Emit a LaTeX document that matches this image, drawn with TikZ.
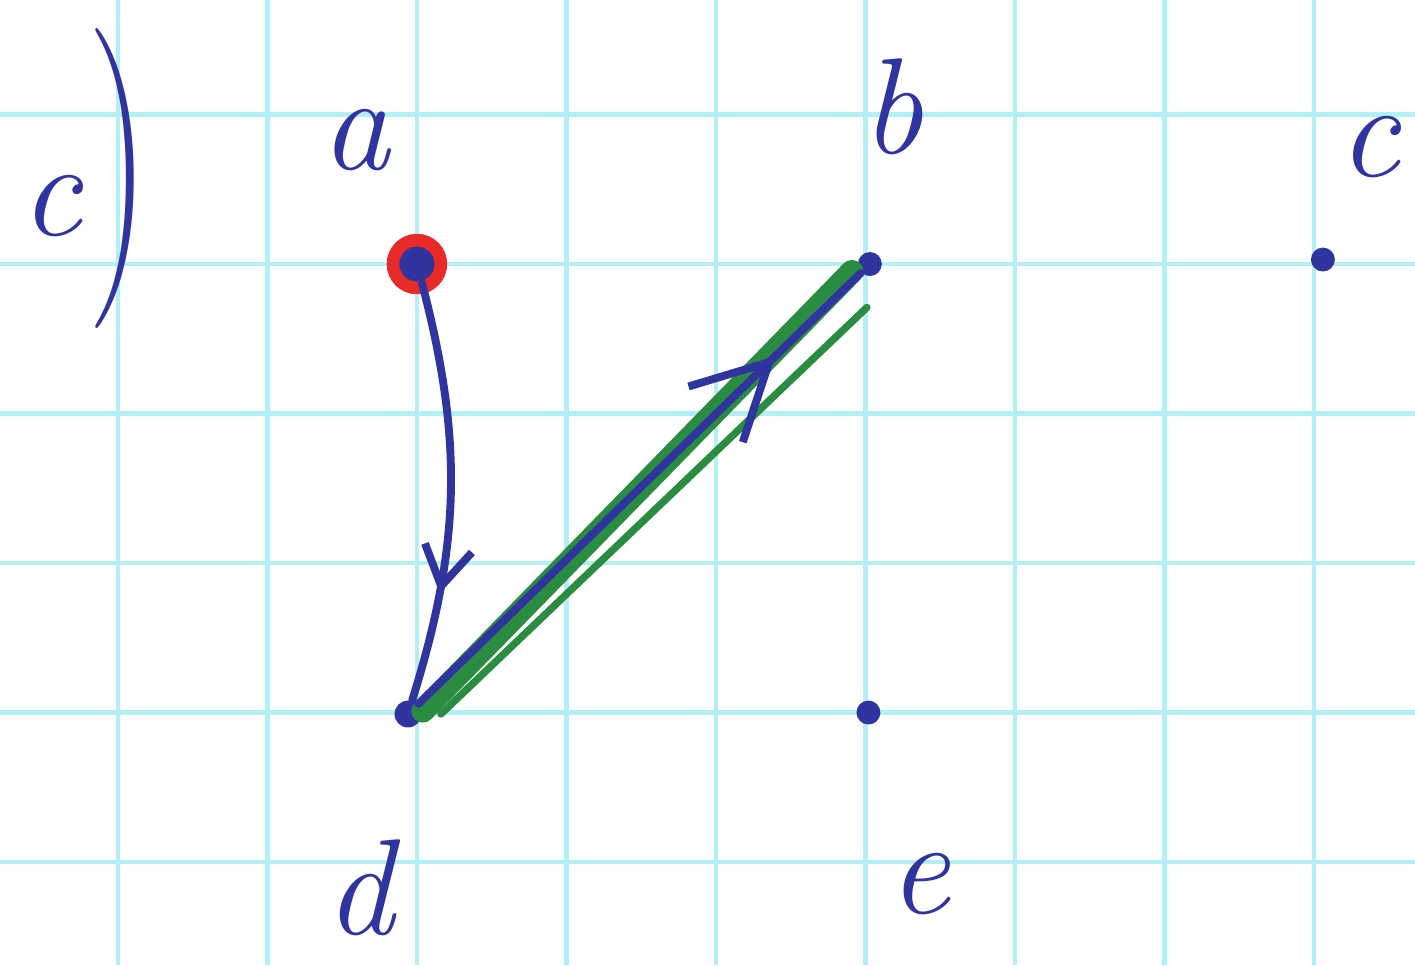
\documentclass[tikz,border=0pt]{standalone}
\usepackage{xcolor}
\usepackage{tikz}
\usetikzlibrary{arrows.meta, calc, decorations.markings}
\definecolor{penblue}{RGB}{48,52,158}
\definecolor{pengreen}{RGB}{42,140,64}
\definecolor{penred}{RGB}{232,42,40}
\definecolor{gridcyan}{RGB}{178,240,245}

\begin{document}
\begin{tikzpicture}[
    gridline/.style={
        draw=gridcyan,
        line width=0.8pt
    },
    vertex/.style={
        circle,
        fill=penblue,
        inner sep=0pt,
        minimum size=2.2mm
    },
    lbl/.style={
        text=penblue,
        font=\fontsize{26}{30}\selectfont\itshape,
        inner sep=0pt
    },
    penline/.style={
        draw=penblue,
        line width=1.5pt,
        line cap=round
    },
    midarrow/.style 2 args={
        postaction={decorate},
        decoration={markings,
            mark=at position #1 with {\arrow[penblue, line width=1.5pt]{Straight Barb[#2]}}}
    },
    marker/.style={
        draw=pengreen,
        line cap=round
    }
]

% =========================
% Carta a quadretti
% =========================
\useasboundingbox (-2.789,-4.689) rectangle (6.676,1.766);
\draw[gridline] (-2.789,-4.689) grid (6.676,1.766);

% =========================
% Titolo
% =========================
\node[lbl, anchor=base west] (title) at (-2.66,0.19)
    {c\hspace{0.04cm}\raisebox{-0.12cm}{\scalebox{1.3}[2.2]{\upshape)}}};

% =========================
% Vertici
% =========================
\node[vertex, minimum size=2.5mm] (a) at (0,0) {};
\node[vertex, minimum size=1.6mm] (b) at (3.03,0) {};
\node[vertex, minimum size=1.6mm] (c) at (6.06,0.03) {};
\node[vertex, minimum size=1.8mm] (d) at (-0.06,-3.01) {};
\node[vertex, minimum size=1.6mm] (e) at (3.02,-3.0) {};

% cerchio rosso attorno ad a
\draw[penred, line width=2.4pt] (a) circle (0.16);

% =========================
% Etichette
% =========================
\node[lbl] (lbla) at (-0.41,0.83) {a};
\node[lbl] (lblb) at (3.18,1.05) {b};
\node[lbl] (lblc) at (6.37,0.78) {c};
\node[lbl] (lbld) at (-0.38,-4.17) {d};
\node[lbl] (lble) at (3.36,-4.15) {e};

% =========================
% Tratti verdi lungo d -- b
% =========================
\draw[marker, line width=4.4pt]
    ($(d)+(0.1,0.02)$) -- ($(b)+(-0.12,-0.05)$);
\draw[marker, line width=1.4pt]
    ($(d)+(0.22,0)$) -- ($(b)+(-0.02,-0.29)$);

% =========================
% Archi
% =========================
% a -> d
\draw[penline, midarrow={0.74}{length=2.6mm, width=3.2mm}]
    (a) to[bend left=16] (d);

% d -> b
\draw[penline, midarrow={0.81}{length=5mm, width=5.2mm}]
    (d) -- (b);

\end{tikzpicture}
\end{document}
